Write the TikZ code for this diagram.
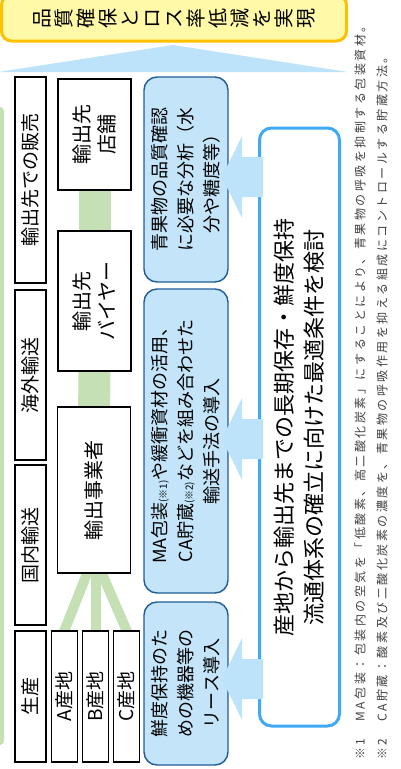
\documentclass[tikz,border=0pt]{standalone}
\usepackage{fontspec}
\setmainfont{Noto Sans CJK JP}
\newfontfamily\notefont[LetterSpace=21]{Noto Sans CJK JP}
\usetikzlibrary{backgrounds,calc}
\definecolor{greenc}{HTML}{C5E0B4}
\definecolor{arrowblue}{HTML}{BDE3FA}
\definecolor{bfill}{HTML}{C3E4F9}
\definecolor{bdark}{HTML}{1F5C99}
\definecolor{wline}{HTML}{3FA9F5}
\definecolor{yfill}{HTML}{FFF9A8}
\definecolor{yline}{HTML}{FFC000}
\definecolor{notegray}{HTML}{404040}
\newcommand\fatarrow[1]{\fill[arrowblue] (263,-#1+20) -- (242,-#1+20) -- (242,-#1+41) -- (222,-#1) -- (242,-#1-41) -- (242,-#1-20) -- (263,-#1-20) -- cycle;}
\begin{document}
\begin{tikzpicture}[x=1pt,y=1pt,
  hdr/.style={draw=black, line width=1.5pt, fill=white, rotate=90, inner sep=0pt, align=center, font=\fontsize{19}{25}\selectfont},
  chain/.style={hdr, font=\fontsize{20}{25}\selectfont},
  bbox/.style={draw=bdark, fill=bfill, line width=1.4pt, rounded corners=13pt, rotate=90, inner sep=0pt, align=center, font=\fontsize{18}{26}\selectfont},
  wstyle/.style={draw=wline, line width=3pt, fill=white, rounded corners=12pt, rotate=90, inner sep=0pt, align=center, font=\fontsize{22}{30}\selectfont},
  goalstyle/.style={draw=yline, fill=yfill, line width=3pt, rounded corners=10pt, rotate=90, inner sep=0pt, align=center, font=\fontsize{20}{22}\selectfont},
  notestyle/.style={rotate=90, anchor=west, inner sep=0pt, text=notegray, font=\notefont\fontsize{12}{12}\selectfont},
  greenlink/.style={greenc, line width=#1}]
\useasboundingbox (0,0) rectangle (400,-769);

% left green bar (cropped)
\fill[greenc, rounded corners=4pt] (-10,-107) rectangle (4,-745);

% goal box and big arrow
\node[goalstyle, minimum width=46pt, minimum height=345pt] (goal) at (174,-18)
  {品\\質\\確\\保\\と\\ロ\\ス\\率\\低\\減\\を\\実\\現};
\fill[arrowblue] (-2,-72) -- (173,-45) -- (348,-72) -- cycle;

% header column
\node[hdr, minimum width=131pt, minimum height=31pt] (seisan) at (30.5,-696.5) {生産};
\node[hdr, minimum width=160pt, minimum height=31pt] (kokunai) at (30.5,-545) {国内輸送};
\node[hdr, minimum width=170pt, minimum height=31pt] (kaigai) at (30.5,-375) {海外輸送};
\node[hdr, minimum width=206pt, minimum height=31pt] (hanbai) at (30.5,-180) {輸出先での販売};

% producers
\node[hdr, minimum width=131pt, minimum height=26pt] (sa) at (64.5,-696.5) {A産地};
\node[hdr, minimum width=131pt, minimum height=26pt] (sb) at (95.5,-696.5) {B産地};
\node[hdr, minimum width=131pt, minimum height=26pt] (sc) at (126.5,-696.5) {C産地};

% chain
\node[chain, minimum width=111pt, minimum height=73pt] (tenpo) at (94.5,-134.5) {輸出先\\店舗};
\node[chain, minimum width=140pt, minimum height=73pt] (buyer) at (94.5,-301) {輸出先\\バイヤー};
\node[chain, minimum width=166pt, minimum height=73pt] (jigyo) at (94,-490) {輸出事業者};

\begin{pgfonlayer}{background}
  \draw[greenlink=32pt] (tenpo) -- (buyer);
  \draw[greenlink=32pt] (buyer) -- (jigyo);
  \draw[greenlink=10pt, shorten <=-4pt, shorten >=-4pt] (sa.east) -- ($(jigyo.west)+(-7,0)$);
  \draw[greenlink=10pt, shorten <=-4pt, shorten >=-4pt] (sb.east) -- (sb.east |- jigyo.west);
  \draw[greenlink=10pt, shorten <=-4pt, shorten >=-4pt] (sc.east) -- ($(jigyo.west)+(8,0)$);
\end{pgfonlayer}

% measures
\node[bbox, minimum width=205pt, minimum height=84pt] (m1) at (186,-179.5)
  {青果物の品質確認\\に必要な分析（水\\分や糖度等）};
\node[bbox, minimum width=304pt, minimum height=84pt] (m2) at (186,-441)
  {MA包装{\fontsize{10}{10}\selectfont(※1)}や緩衝資材の活用、\\CA貯蔵{\fontsize{10}{10}\selectfont(※2)}などを組み合わせた\\輸送手法の導入};
\node[bbox, minimum width=163pt, minimum height=84pt] (m3) at (186,-683.5)
  {鮮度保持のた\\めの機器等の\\リース導入};

% main box
\node[wstyle, minimum width=598pt, minimum height=80pt] (wbox) at (299.5,-427)
  {産地から輸出先までの長期保存・鮮度保持\\流通体系の確立に向けた最適条件を検討};

% arrows from main box to measures
\fatarrow{177}
\fatarrow{439}
\fatarrow{679}

% notes
\node[notestyle] (note1) at (360,-760) {※1　MA包装：包装内の空気を「低酸素、高二酸化炭素」にすることにより、青果物の呼吸を抑制する包装資材。};
\node[notestyle] (note2) at (382,-760) {※2　CA貯蔵：酸素及び二酸化炭素の濃度を、青果物の呼吸作用を抑える組成にコントロールする貯蔵方法。};
\end{tikzpicture}
\end{document}
